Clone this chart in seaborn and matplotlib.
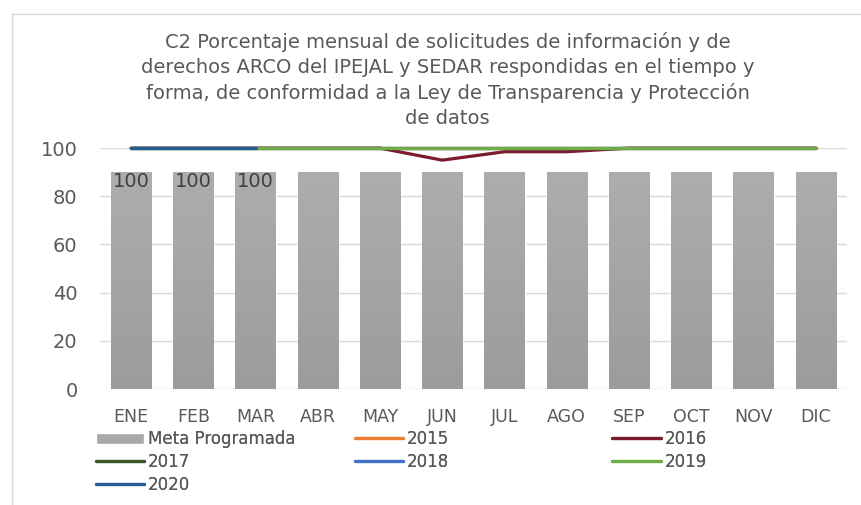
import matplotlib
matplotlib.use("Agg")
from matplotlib import pyplot as plt
from matplotlib.patches import Rectangle
from matplotlib.colors import LinearSegmentedColormap
import numpy as np
import seaborn as sns

meses = ["ENE", "FEB", "MAR", "ABR", "MAY", "JUN", "JUL", "AGO", "SEP", "OCT", "NOV", "DIC"]
meta = [90, 90, 90, 90, 90, 90, 90, 90, 90, 90, 90, 90]
s2015 = [100, 100, 100, 100, 100, 100, 100, 100, 100, 100, 100, 100]
s2016 = [100, 100, 100, 100, 100, 95, 98.5, 98.5, 100, 100, 100, 100]
s2017 = [100, 100, 100, 100, 100, 100, 100, 100, 100, 100, 100, 100]
s2018 = [100, 100, 100, 100, 100, 100, 100, 100, 100, 100, 100, 100]
s2019 = [100, 100, 100, 100, 100, 100, 100, 100, 100, 100, 100, 100]
s2020 = [100, 100, 100]

titulo = ("C2 Porcentaje mensual de solicitudes de información y de\n"
          "derechos ARCO del IPEJAL y SEDAR respondidas en el tiempo y\n"
          "forma, de conformidad a la Ley de Transparencia y Protección\n"
          "de datos")

sns.set_style("white")
plt.rcParams['font.family'] = ['DejaVu Sans']
gris = '#595959'

fig = plt.figure(figsize=(8.61, 5.05), dpi=100)
ax = fig.add_axes([0.116, 0.2297, 0.8676, 0.477])

series = [("2015", s2015, '#ED7D31'), ("2016", s2016, '#7B1B2E'),
          ("2017", s2017, '#375623'), ("2018", s2018, '#4472C4'),
          ("2019", s2019, '#70AD47'), ("2020", s2020, '#255E91')]

sns.barplot(x=meses, y=meta, color='#A8A8A8', width=0.65, ax=ax,
            label='Meta Programada', saturation=1, zorder=2)

# degradado vertical en las barras, como en el original
cmap = LinearSegmentedColormap.from_list("g", ['#9C9C9C', '#ADADAD'])
grad = np.linspace(0, 1, 100).reshape(-1, 1)
for p in list(ax.patches):
    x0, y0 = p.get_x(), p.get_y()
    ax.imshow(grad, cmap=cmap, origin='lower', aspect='auto',
              extent=(x0, x0 + p.get_width(), y0, y0 + p.get_height()),
              clip_path=p, zorder=2.1)

for nombre, vals, col in series:
    sns.lineplot(x=np.arange(len(vals)), y=vals, color=col, linewidth=2.3,
                 ax=ax, label=nombre, zorder=3, clip_on=False)

for i, v in enumerate(s2020):
    ax.text(i, 86.3, f"{v:.0f}", ha='center', va='center', fontsize=14,
            color='#404040', zorder=4)

ax.set_ylim(0, 100)
ax.set_xlim(-0.5, 11.5)
ax.set_yticks(range(0, 101, 20))
ax.yaxis.grid(True, color='#D9D9D9', linewidth=1)
ax.set_axisbelow(True)
for s in ax.spines.values():
    s.set_visible(False)
ax.tick_params(axis='y', labelsize=14, colors=gris, length=0, pad=16)
ax.tick_params(axis='x', labelsize=12.5, colors=gris, length=0, pad=14)
ax.set_xlabel('')
ax.set_ylabel('')

fig.text(0.52, 0.936, titulo, ha='center', va='top', fontsize=14,
         color=gris, linespacing=1.38)

handles, labels = ax.get_legend_handles_labels()
ax.get_legend().remove()
hmap = dict(zip(labels, handles))
columnas = [(["Meta Programada", "2017", "2020"], 0.111),
            (["2015", "2018"], 0.412),
            (["2016", "2019"], 0.711)]
for nombres, x in columnas:
    leg = fig.legend([hmap[k] for k in nombres], nombres, loc='upper left',
                     bbox_to_anchor=(x, 0.148), frameon=False, fontsize=12,
                     handlelength=2.9, handletextpad=0.25,
                     labelspacing=0.3, borderpad=0, borderaxespad=0)
    for t in leg.get_texts():
        t.set_color(gris)
    fig.add_artist(leg)

fig.patches.append(Rectangle((0.014, -0.05), 1.2, 1.022, transform=fig.transFigure,
                             fill=False, edgecolor='#D9D9D9', linewidth=1))

fig.savefig("out.png", dpi=100)
